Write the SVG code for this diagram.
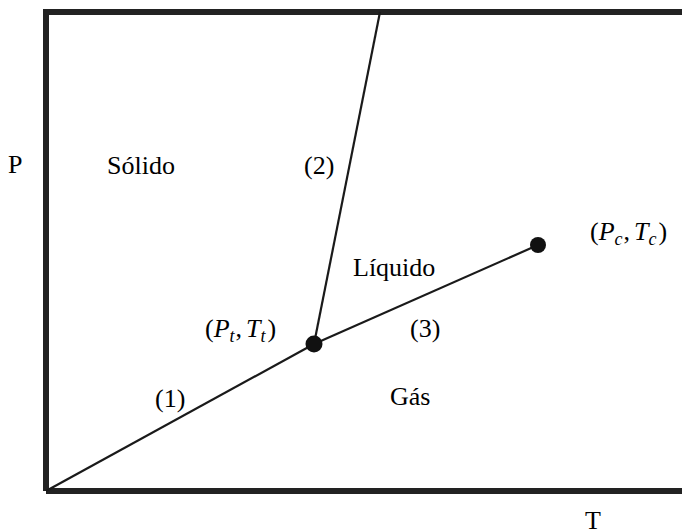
<svg xmlns="http://www.w3.org/2000/svg" width="682" height="530" viewBox="0 0 682 530">
<style>
text{font-family:"Liberation Serif","Times New Roman",serif;font-size:26px;fill:#000}
.i{font-style:italic}
.s{font-style:italic;font-size:18px}
.ln{stroke:#1a1a1a;stroke-width:2.2;fill:none}
</style>
<rect width="682" height="530" fill="#fff"/>
<g id="frame"><path d="M46,491 V12 H690 M46,491 H690" fill="none" stroke="#222" stroke-width="6"/></g>
<g id="connectors">
<line class="ln" x1="46" y1="491" x2="314" y2="344"/>
<line class="ln" x1="314" y1="344" x2="380" y2="12"/>
<line class="ln" x1="314" y1="344" x2="538" y2="245"/>
</g>
<g id="triple"><circle cx="314" cy="344" r="8.5" fill="#111"/></g>
<g id="critical"><circle cx="538" cy="245" r="8" fill="#111"/></g>
<g id="labels">
<text x="8" y="173">P</text>
<text x="585" y="529">T</text>
<text x="107" y="174">Sólido</text>
<text x="304" y="174">(2)</text>
<text x="353" y="276">Líquido</text>
<text x="410" y="337">(3)</text>
<text x="155" y="407">(1)</text>
<text x="390" y="405">Gás</text>
<text x="590" y="240">(<tspan class="i">P</tspan><tspan class="s" dy="5">c</tspan><tspan dy="-5" dx="1">,</tspan><tspan class="i" dx="4">T</tspan><tspan class="s" dy="5">c</tspan><tspan dy="-5" dx="2">)</tspan></text>
<text x="205" y="337">(<tspan class="i">P</tspan><tspan class="s" dy="5">t</tspan><tspan dy="-5" dx="1">,</tspan><tspan class="i" dx="4">T</tspan><tspan class="s" dy="5">t</tspan><tspan dy="-5" dx="2">)</tspan></text>
</g>
</svg>
